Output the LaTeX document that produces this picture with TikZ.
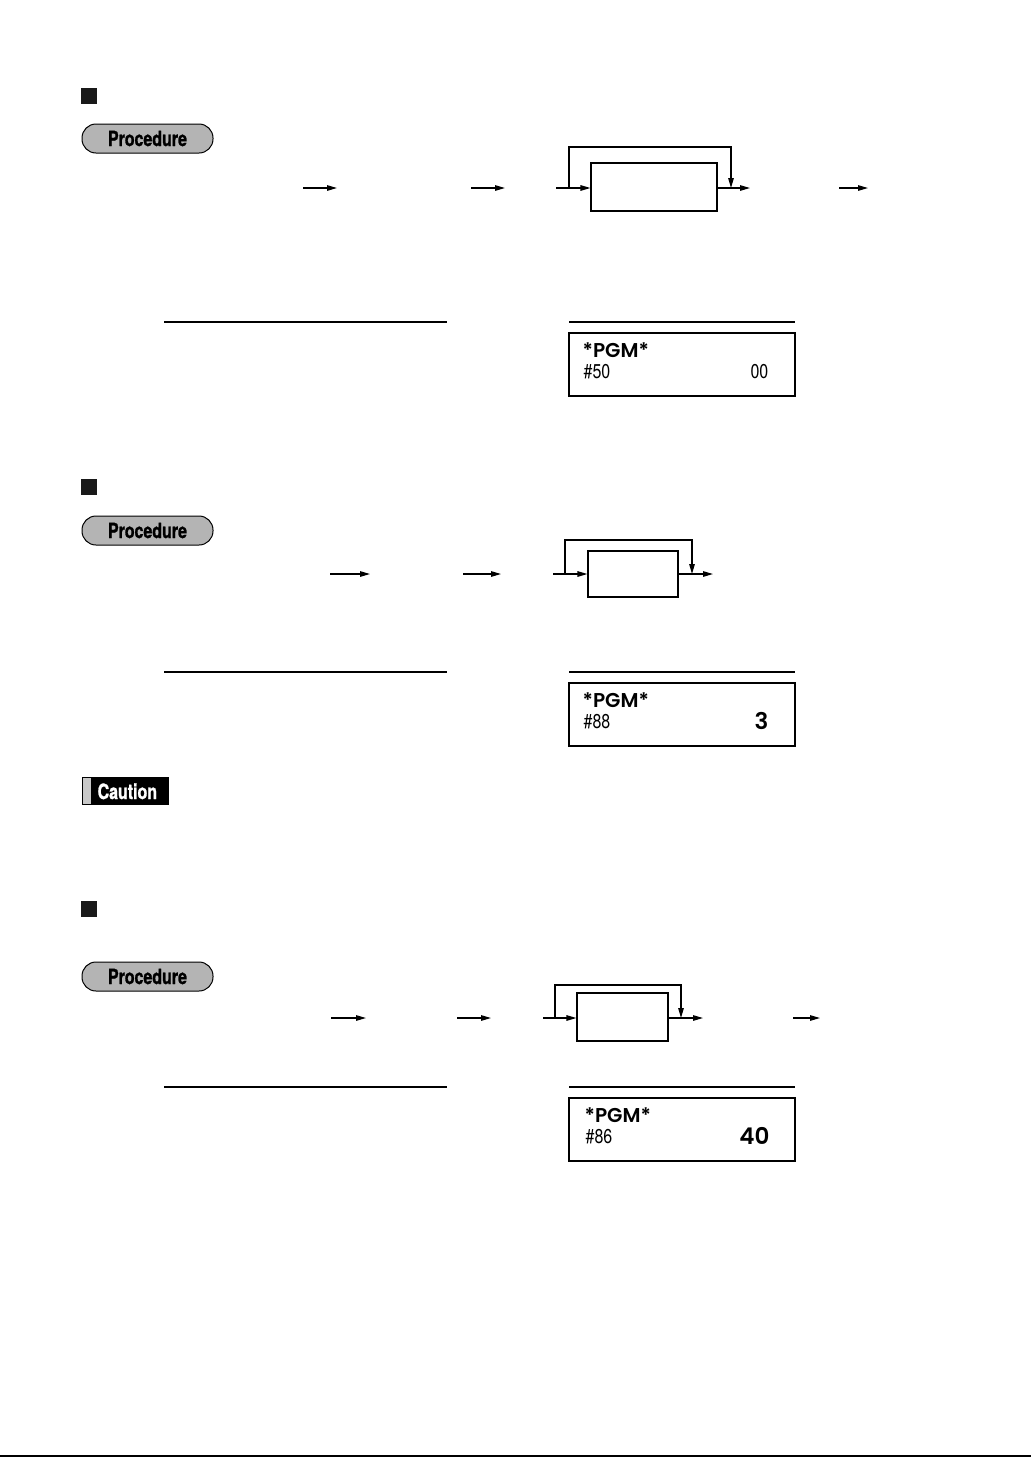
\documentclass[tikz,border=0pt]{standalone}
\usepackage{fontspec}
\usetikzlibrary{arrows.meta}
\newfontfamily\condfont[FakeStretch=0.8]{TeX Gyre Heros}
\newfontfamily\condbold[FakeStretch=0.76,FakeBold=1.2]{TeX Gyre Heros Bold}
\newfontfamily\lcdfont{Poppins SemiBold}
\definecolor{pillgray}{HTML}{B4B4B4}
\definecolor{cautgray}{HTML}{C8C8C8}
\begin{document}
\begin{tikzpicture}[x=1pt,y=-1pt,
  line width=1.3pt,
  arr/.style={-{Triangle[length=10pt,width=5.5pt]}},
  keybox/.style={draw,line width=1.1pt,minimum height=0pt,inner sep=0pt},
  sqmark/.style={fill=black!90,minimum size=16pt,inner sep=0pt},
  pill/.style={draw,fill=pillgray,rounded corners=14pt,line width=1pt,minimum width=131pt,minimum height=29pt,inner sep=0pt,font=\condbold\fontsize{21}{21}\selectfont},
  rule/.style={line width=1.1pt},
  disp/.style={draw,line width=1.1pt,minimum width=226pt,minimum height=63pt,inner sep=0pt},
  lcd/.style={anchor=base west,inner sep=0pt,text depth=0pt,font=\lcdfont\fontsize{20}{20}\selectfont},
  lcdbig/.style={anchor=base east,inner sep=0pt,text depth=0pt,font=\lcdfont\fontsize{23}{23}\selectfont},
  lcdnum/.style={anchor=base west,inner sep=0pt,text depth=0pt,text height=13pt,font=\condfont\fontsize{20}{20}\selectfont},
]
\useasboundingbox (0,0) rectangle (1031,1457);

% ===== Section 1 =====
\node[sqmark] (sq1) at (89,96) {};
\node[pill] (pr1) at (147.5,138.5) {Procedure};
\coordinate (a1s) at (303,188); \coordinate (a1e) at (337,188);
\coordinate (a2s) at (471,188); \coordinate (a2e) at (505,188);
\coordinate (a3s) at (556,188);
\node[keybox,minimum width=126pt,minimum height=48pt] (k1) at (654,187) {};
\coordinate (l1a) at (569,188); \coordinate (l1b) at (731,147); \coordinate (l1c) at (731,188);
\coordinate (o1e) at (750,188);
\coordinate (a4s) at (839,188); \coordinate (a4e) at (868,188);
\draw[arr] (a1s) -- (a1e);
\draw[arr] (a2s) -- (a2e);
\draw[arr] (a3s) -- (k1.west |- a3s);
\draw[arr] (l1a) |- (l1b) -- (l1c);
\draw[arr] (k1.east |- o1e) -- (o1e);
\draw[arr] (a4s) -- (a4e);
\coordinate (r1a) at (164,322); \coordinate (r1b) at (447,322);
\coordinate (r1c) at (569,322); \coordinate (r1d) at (795,322);
\draw[rule] (r1a) -- (r1b);
\draw[rule] (r1c) -- (r1d);
\node[disp] (d1) at (682,364.5) {};
\node[lcd] (d1t) at (582,357.5) {*PGM*};
\node[lcdnum] (d1n) at (583,378.5) {\#50};
\node[lcdnum,anchor=base east] (d1v) at (769,378.5) {00};

% ===== Section 2 =====
\node[sqmark] (sq2) at (89,487) {};
\node[pill] (pr2) at (147.5,530.5) {Procedure};
\coordinate (b1s) at (330,574); \coordinate (b1e) at (370,574);
\coordinate (b2s) at (463,574); \coordinate (b2e) at (501,574);
\coordinate (b3s) at (553,574);
\node[keybox,minimum width=90pt,minimum height=46pt] (k2) at (633,574) {};
\coordinate (l2a) at (565,574); \coordinate (l2b) at (692,540); \coordinate (l2c) at (692,574);
\coordinate (o2e) at (713,574);
\draw[arr] (b1s) -- (b1e);
\draw[arr] (b2s) -- (b2e);
\draw[arr] (b3s) -- (k2.west |- b3s);
\draw[arr] (l2a) |- (l2b) -- (l2c);
\draw[arr] (k2.east |- o2e) -- (o2e);
\coordinate (r2a) at (164,672); \coordinate (r2b) at (447,672);
\coordinate (r2c) at (569,672); \coordinate (r2d) at (795,672);
\draw[rule] (r2a) -- (r2b);
\draw[rule] (r2c) -- (r2d);
\node[disp] (d2) at (682,714.5) {};
\node[lcd] (d2t) at (582,707.5) {*PGM*};
\node[lcdnum] (d2n) at (583,728.5) {\#88};
\node[lcdbig] (d2v) at (769,729) {3};

% ===== Caution =====
\node[fill=black,minimum width=87pt,minimum height=28pt,inner sep=0pt] (cau) at (125.5,791) {};
\node[fill=cautgray,minimum width=8pt,minimum height=26pt,inner sep=0pt] (caubar) at (87,791) {};
\node[text=white,inner sep=0pt,anchor=base west,font=\condbold\fontsize{21}{21}\selectfont] (cautxt) at (97,799) {Caution};

% ===== Section 3 =====
\node[sqmark] (sq3) at (89,909) {};
\node[pill] (pr3) at (147.5,976.5) {Procedure};
\coordinate (c1s) at (331,1018); \coordinate (c1e) at (366,1018);
\coordinate (c2s) at (457,1018); \coordinate (c2e) at (491,1018);
\coordinate (c3s) at (543,1018);
\node[keybox,minimum width=91pt,minimum height=48pt] (k3) at (622.5,1017) {};
\coordinate (l3a) at (555,1018); \coordinate (l3b) at (681,985); \coordinate (l3c) at (681,1018);
\coordinate (o3e) at (703,1018);
\coordinate (c4s) at (793,1018); \coordinate (c4e) at (820,1018);
\draw[arr] (c1s) -- (c1e);
\draw[arr] (c2s) -- (c2e);
\draw[arr] (c3s) -- (k3.west |- c3s);
\draw[arr] (l3a) |- (l3b) -- (l3c);
\draw[arr] (k3.east |- o3e) -- (o3e);
\draw[arr] (c4s) -- (c4e);
\coordinate (r3a) at (164,1087); \coordinate (r3b) at (447,1087);
\coordinate (r3c) at (569,1087); \coordinate (r3d) at (795,1087);
\draw[rule] (r3a) -- (r3b);
\draw[rule] (r3c) -- (r3d);
\node[disp] (d3) at (682,1129.5) {};
\node[lcd] (d3t) at (584,1122.5) {*PGM*};
\node[lcdnum] (d3n) at (585,1143.5) {\#86};
\node[lcdbig] (d3v) at (770,1144) {40};

% ===== bottom rule =====
\coordinate (bl) at (0,1456); \coordinate (br) at (1031,1456);
\draw[line width=2pt] (bl) -- (br);
\end{tikzpicture}
\end{document}
